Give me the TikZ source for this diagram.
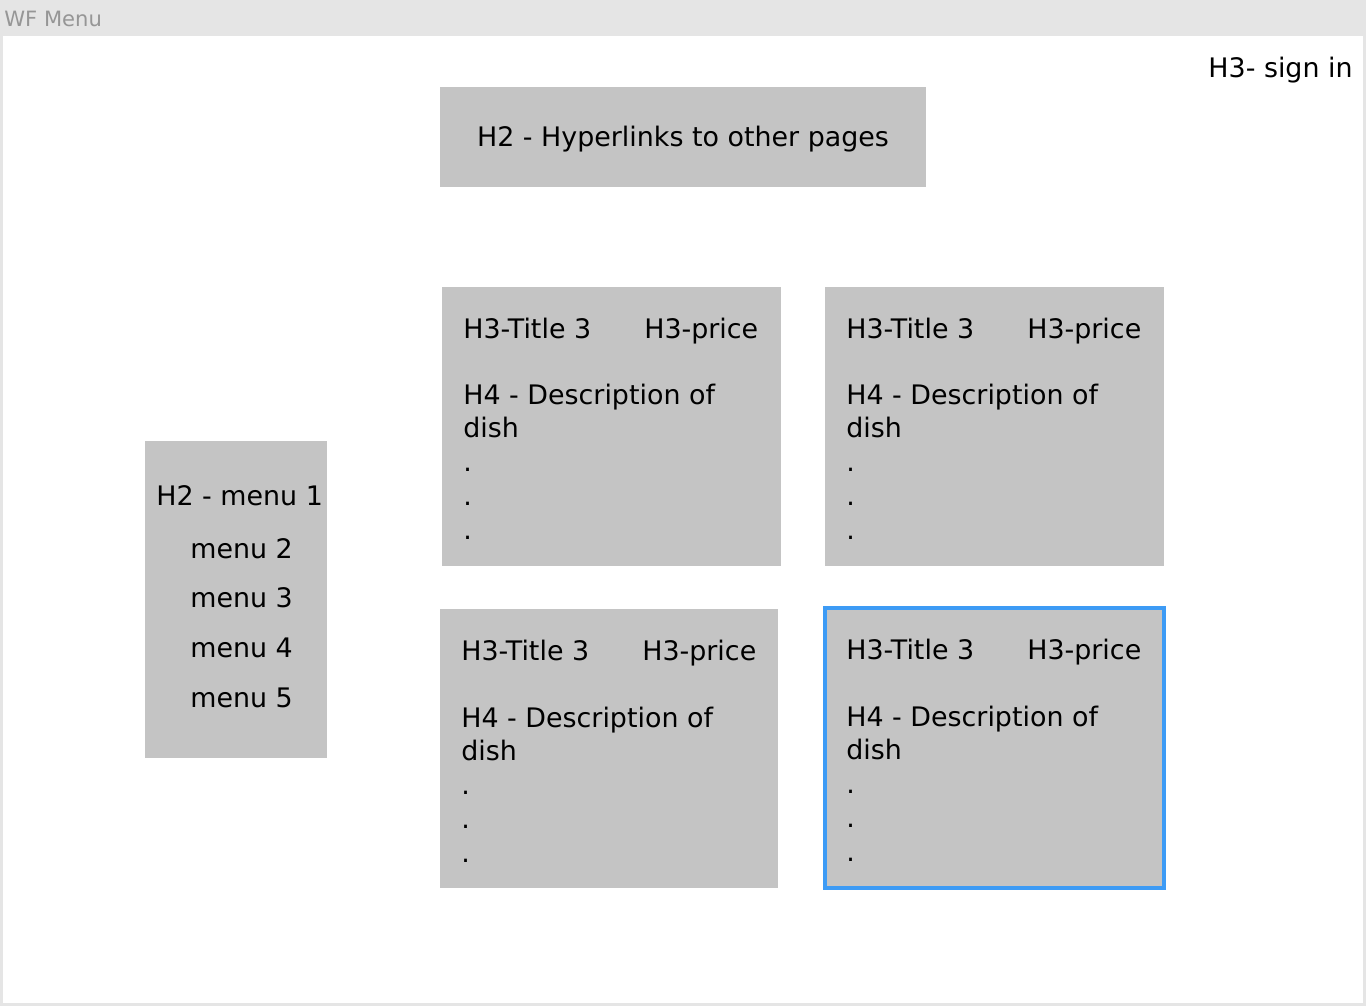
\documentclass[tikz,border=0pt]{standalone}
\usepackage{fontspec}
\setmainfont{DejaVu Sans}
\definecolor{wfbar}{RGB}{229,229,229}
\definecolor{wfbox}{RGB}{196,196,196}
\definecolor{wfgray}{RGB}{150,150,150}
\definecolor{wfblue}{RGB}{61,155,245}
\usetikzlibrary{positioning,calc}
\tikzset{
  panel/.style={fill=wfbox,inner sep=0pt,outer sep=0pt,anchor=north west},
  txt/.style={font=\fontsize{15.3}{18}\selectfont,inner sep=0pt,anchor=base west},
}

\begin{document}
\begin{tikzpicture}[x=0.02cm,y=-0.02cm]
  % Window frame
  \fill[wfbar] (0,0) rectangle (1366,1006);
  \fill[white] (3,36) rectangle (1363,1003);
  \node[font=\fontsize{12}{14}\selectfont,text=wfgray,inner sep=0pt,anchor=base west] (wftitle) at (4,27) {WF Menu};
  \node[txt,anchor=base east] (signin) at (1353,78) {H3- sign in};

  % Hyperlinks bar
  \node[panel,minimum width=9.72cm,minimum height=2cm] (links) at (440,87) {};
  \node[txt,anchor=base] (linkstxt) at (683,147) {H2 - Hyperlinks to other pages};

  % Side menu
  \node[panel,minimum width=3.64cm,minimum height=6.34cm] (menu) at (145,441) {};
  \node[txt] (menu1) at (156,506) {H2 - menu 1};
  \foreach \i/\y in {2/559,3/607,4/657,5/707}
    \node[txt] (menu\i) at (190,\y) {menu \i};

  % Dish cards
  \node[panel,minimum width=6.78cm,minimum height=5.58cm] (card1) at (442,287) {};
  \node[panel,minimum width=6.78cm,minimum height=5.58cm] (card2) at (825,287) {};
  \node[panel,minimum width=6.76cm,minimum height=5.58cm] (card3) at (440,609) {};
  \node[panel,draw=wfblue,line width=0.08cm,minimum width=6.79cm,minimum height=5.6cm] (card4) at (825,608) {};

  \foreach \n/\x/\y in {card1/442/287,card2/825/287,card3/440/609,card4/825/608}{
    \node[txt] (\n-title) at (\x+21,\y+52) {H3-Title 3};
    \node[txt] (\n-price) at (\x+202,\y+52) {H3-price};
    \node[txt] (\n-desc) at (\x+21,\y+118) {H4 - Description of};
    \node[txt] (\n-dish) at (\x+21,\y+151) {dish};
    \foreach \k/\d in {1/185,2/219,3/253}
      \node[txt] (\n-dot\k) at (\x+21,\y+\d) {.};
  }
\end{tikzpicture}
\end{document}
